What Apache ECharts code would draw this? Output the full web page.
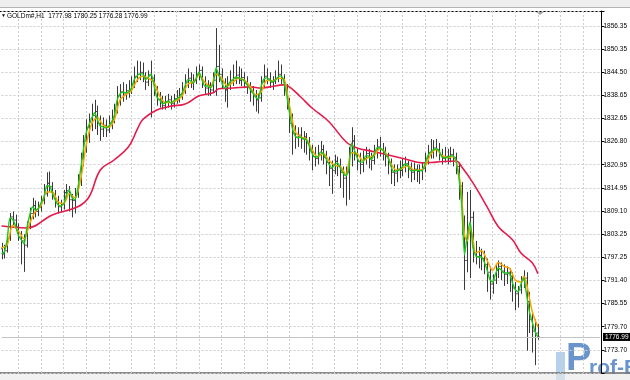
<!DOCTYPE html>
<html><head><meta charset="utf-8">
<script src="https://cdn.jsdelivr.net/npm/echarts@6/dist/echarts.min.js"></script>
<style>html,body{margin:0;padding:0;background:#fff}#c{width:630px;height:380px}</style>
</head><body><div id="c"></div>
<script>
// ---------- data ----------
const symbolName = 'GOLDm#,H1';
const lastQuote = ['1777.98', '1780.25', '1776.28', '1776.99'];
const bidPrice = 1776.99;
const tickLabels = ['1773.70','1779.70','1785.55','1791.40','1797.25','1803.25','1809.10','1814.95',
                    '1820.95','1826.80','1832.65','1838.65','1844.50','1850.35','1856.35'];
const shiftBars = 22; // empty space at the right edge of the chart

const opens = [
1799.5,1798.2,1799.0,1802.2,1807.6,1806.8,1805.0,1802.5,1801.5,1800.4,
1805.2,1808.5,1810.5,1809.0,1810.0,1811.8,1813.5,1816.2,1815.3,1813.2,
1811.5,1810.2,1810.8,1813.8,1814.3,1812.0,1811.8,1813.5,1817.0,1822.5,
1827.0,1830.5,1831.8,1833.5,1834.5,1831.5,1830.0,1831.0,1829.8,1831.5,
1832.5,1834.8,1838.5,1839.5,1839.0,1839.8,1840.0,1841.5,1843.5,1844.0,
1844.5,1843.5,1842.0,1843.8,1843.0,1840.0,1837.5,1837.2,1836.0,1837.0,
1837.5,1836.5,1837.8,1837.5,1838.8,1840.0,1842.0,1843.0,1841.8,1842.5,
1844.0,1845.0,1842.0,1840.5,1841.2,1840.0,1842.5,1846.0,1844.0,1841.8,
1840.0,1841.5,1842.5,1843.0,1843.8,1842.5,1843.2,1841.8,1841.0,1839.5,
1838.5,1837.5,1838.0,1842.0,1843.5,1842.8,1842.0,1842.3,1843.0,1844.0,
1843.0,1840.5,1837.0,1831.5,1829.0,1828.0,1828.5,1827.5,1828.0,1826.5,
1824.5,1823.0,1822.5,1823.5,1824.8,1822.8,1821.5,1820.0,1819.5,1821.8,
1820.5,1819.0,1817.5,1819.0,1824.0,1827.0,1823.5,1821.8,1821.0,1822.5,
1823.8,1822.5,1822.0,1824.5,1825.5,1824.8,1824.0,1823.0,1821.5,1819.0,
1818.8,1819.8,1819.5,1821.0,1821.2,1820.0,1819.0,1819.8,1819.2,1819.5,
1820.0,1822.5,1824.0,1824.5,1825.2,1824.8,1823.5,1822.5,1823.0,1822.5,
1823.5,1822.8,1820.5,1815.5,1806.0,1796.5,1803.5,1807.5,1798.5,1797.5,
1797.8,1797.0,1795.5,1793.5,1790.5,1791.5,1794.0,1795.0,1793.8,1793.0,
1793.5,1792.5,1789.5,1788.0,1789.0,1791.5,1792.0,1786.0,1781.5,1778.5,
1777.98];
const highs = [
1801.0,1800.5,1803.0,1808.6,1809.0,1808.2,1806.0,1804.0,1803.2,1806.5,
1810.0,1812.5,1811.8,1811.5,1813.0,1816.0,1819.0,1819.2,1816.5,1814.5,
1813.0,1812.0,1814.5,1816.0,1815.5,1813.5,1815.0,1818.5,1824.0,1828.5,
1832.5,1834.0,1836.5,1837.5,1836.0,1833.5,1833.0,1832.5,1833.5,1835.0,
1836.5,1841.0,1841.5,1842.0,1841.5,1842.5,1843.5,1846.0,1847.5,1847.3,
1847.0,1844.5,1845.0,1847.5,1844.0,1841.0,1839.5,1838.5,1838.5,1839.0,
1838.5,1839.0,1840.0,1840.5,1842.0,1844.0,1845.5,1844.5,1844.0,1846.0,
1846.5,1846.0,1843.5,1842.5,1842.0,1844.5,1855.8,1851.5,1845.5,1843.0,
1843.5,1845.0,1846.5,1847.5,1846.0,1845.5,1844.5,1843.5,1842.0,1841.0,
1840.0,1839.0,1843.5,1846.5,1845.5,1844.5,1843.5,1845.0,1847.5,1846.5,
1844.0,1841.5,1838.0,1834.0,1831.0,1830.5,1830.5,1829.5,1829.0,1828.0,
1826.0,1825.5,1826.0,1827.0,1826.0,1824.5,1823.0,1822.0,1823.5,1823.0,
1822.5,1820.5,1820.5,1825.5,1830.5,1828.5,1825.0,1824.0,1824.5,1825.5,
1825.0,1824.0,1826.0,1827.5,1828.0,1826.5,1825.5,1824.0,1822.5,1821.0,
1821.0,1822.0,1822.5,1823.0,1822.0,1821.5,1821.5,1821.0,1821.0,1821.5,
1824.0,1826.0,1827.5,1827.2,1827.5,1826.5,1825.0,1825.5,1825.0,1825.5,
1825.0,1824.0,1821.5,1816.5,1808.0,1814.0,1814.5,1809.0,1801.5,1800.0,
1799.5,1799.0,1797.0,1795.0,1793.0,1795.5,1796.5,1796.0,1795.5,1795.0,
1794.5,1793.5,1791.0,1790.0,1792.5,1794.0,1793.5,1788.5,1783.5,1781.5,
1780.25];
const lows = [
1796.8,1797.0,1798.5,1801.5,1805.5,1804.0,1801.5,1795.5,1793.6,1799.8,
1804.5,1807.0,1807.5,1807.8,1809.0,1810.8,1812.8,1814.0,1812.0,1810.0,
1808.5,1808.8,1809.5,1812.0,1809.0,1807.5,1808.5,1812.5,1815.5,1820.5,
1824.0,1826.5,1829.5,1830.0,1828.5,1827.0,1828.0,1828.0,1829.0,1830.0,
1831.5,1834.0,1836.0,1837.0,1837.5,1838.0,1839.0,1840.5,1842.0,1842.5,
1842.0,1840.0,1841.0,1833.0,1838.5,1836.0,1835.5,1835.0,1835.0,1835.5,
1835.0,1835.5,1836.5,1836.8,1837.5,1839.0,1840.5,1840.5,1840.0,1841.5,
1842.5,1840.5,1839.0,1838.5,1838.5,1839.5,1838.5,1842.0,1840.5,1837.0,
1835.5,1840.0,1841.0,1841.5,1841.5,1841.0,1840.5,1839.0,1837.0,1836.0,
1834.5,1834.0,1837.0,1840.5,1841.5,1840.5,1840.0,1841.5,1842.0,1841.5,
1838.5,1835.0,1829.0,1823.5,1825.0,1825.5,1825.0,1824.0,1823.5,1822.0,
1819.5,1820.5,1821.0,1822.0,1821.0,1818.5,1815.5,1813.5,1818.5,1818.0,
1815.0,1812.5,1810.5,1812.0,1820.5,1822.0,1819.5,1818.5,1819.0,1821.0,
1820.0,1819.5,1821.0,1822.5,1823.0,1822.0,1820.5,1818.5,1816.0,1815.5,
1816.5,1817.5,1818.0,1819.0,1817.5,1816.5,1817.0,1816.5,1816.0,1817.0,
1819.0,1821.0,1822.5,1822.5,1823.0,1822.0,1821.0,1821.5,1821.0,1821.5,
1820.5,1818.5,1812.0,1803.0,1789.0,1793.5,1792.0,1796.0,1795.5,1794.5,
1794.0,1793.0,1788.5,1786.5,1788.0,1790.5,1792.0,1791.5,1790.0,1790.5,
1788.5,1786.0,1783.8,1784.5,1788.0,1789.5,1773.5,1778.0,1773.0,1769.8,
1776.28];
const closes = [
1798.2,1799.0,1802.2,1807.6,1806.8,1805.0,1802.5,1801.5,1800.4,1805.2,
1808.5,1810.5,1809.0,1810.0,1811.8,1813.5,1816.2,1815.3,1813.2,1811.5,
1810.2,1810.8,1813.8,1814.3,1812.0,1811.8,1813.5,1817.0,1822.5,1827.0,
1830.5,1831.8,1833.5,1834.5,1831.5,1830.0,1831.0,1829.8,1831.5,1832.5,
1834.8,1838.5,1839.5,1839.0,1839.8,1840.0,1841.5,1843.5,1844.0,1844.5,
1843.5,1842.0,1843.8,1843.0,1840.0,1837.5,1837.2,1836.0,1837.0,1837.5,
1836.5,1837.8,1837.5,1838.8,1840.0,1842.0,1843.0,1841.8,1842.5,1844.0,
1845.0,1842.0,1840.5,1841.2,1840.0,1842.5,1846.0,1844.0,1841.8,1840.0,
1841.5,1842.5,1843.0,1843.8,1842.5,1843.2,1841.8,1841.0,1839.5,1838.5,
1837.5,1838.0,1842.0,1843.5,1842.8,1842.0,1842.3,1843.0,1844.0,1843.0,
1840.5,1837.0,1831.5,1829.0,1828.0,1828.5,1827.5,1828.0,1826.5,1824.5,
1823.0,1822.5,1823.5,1824.8,1822.8,1821.5,1820.0,1819.5,1821.8,1820.5,
1819.0,1817.5,1819.0,1824.0,1827.0,1823.5,1821.8,1821.0,1822.5,1823.8,
1822.5,1822.0,1824.5,1825.5,1824.8,1824.0,1823.0,1821.5,1819.0,1818.8,
1819.8,1819.5,1821.0,1821.2,1820.0,1819.0,1819.8,1819.2,1819.5,1820.0,
1822.5,1824.0,1824.5,1825.2,1824.8,1823.5,1822.5,1823.0,1822.5,1823.5,
1822.8,1820.5,1815.5,1806.0,1796.5,1803.5,1807.5,1798.5,1797.5,1797.8,
1797.0,1795.5,1793.5,1790.5,1791.5,1794.0,1795.0,1793.8,1793.0,1793.5,
1792.5,1789.5,1788.0,1789.0,1791.5,1792.0,1786.0,1781.5,1778.5,1777.98,
1776.99];

// green (fast) moving average, one value per bar
const maFast = [
1798.2,1798.7,1801.8,1807.4,1806.9,1805.3,1802.8,1801.8,1800.7,1804.8,
1808.1,1810.2,1809.4,1809.7,1811.2,1812.5,1815.5,1815.5,1813.7,1812.0,
1810.7,1810.4,1810.9,1813.2,1814.5,1812.5,1812.0,1814.8,1819.6,1824.7,
1829.1,1831.1,1832.9,1834.2,1832.4,1830.8,1830.6,1830.3,1830.8,1831.9,
1833.6,1837.5,1839.0,1839.5,1839.3,1839.5,1840.5,1842.6,1843.6,1844.1,
1844.1,1842.6,1843.3,1844.1,1841.3,1838.2,1837.5,1836.5,1836.7,1837.2,
1836.7,1837.2,1837.7,1838.2,1839.3,1841.0,1842.6,1842.3,1841.8,1843.1,
1844.6,1842.6,1841.0,1841.0,1840.5,1841.6,1845.6,1843.8,1842.1,1840.5,
1841.0,1842.1,1842.6,1843.3,1843.1,1842.8,1842.3,1841.3,1840.3,1839.3,
1838.2,1837.7,1841.0,1842.8,1843.1,1842.6,1842.1,1842.6,1843.3,1843.6,
1842.1,1838.8,1834.2,1830.3,1828.3,1827.8,1828.0,1827.5,1827.3,1825.7,
1823.9,1822.9,1822.9,1824.2,1823.7,1822.4,1821.1,1820.1,1820.9,1821.4,
1820.1,1818.8,1818.1,1819.6,1826.5,1824.7,1822.7,1821.6,1821.6,1823.2,
1823.2,1822.2,1823.7,1825.2,1825.2,1824.7,1823.7,1822.7,1820.4,1819.1,
1819.4,1819.6,1820.4,1821.1,1820.6,1819.4,1819.4,1819.6,1819.4,1819.4,
1821.1,1823.2,1824.2,1824.7,1825.0,1824.5,1822.9,1822.7,1822.7,1823.2,
1823.2,1821.9,1817.6,1810.7,1797.9,1803.0,1806.4,1799.7,1797.7,1797.4,
1797.4,1796.1,1794.1,1791.6,1791.0,1793.1,1794.6,1794.1,1793.3,1793.3,
1793.1,1790.8,1789.0,1788.5,1790.5,1792.1,1787.7,1783.4,1780.8,1778.3,
1776.99];

// orange (medium) moving average, [bar, value]
const maMid = [[0,1799.7],[2,1800.5],[4,1805.5],[6,1804.0],[8,1802.0],[10,1806.0],[12,1809.0],[14,1810.5],
[16,1814.0],[18,1814.0],[20,1811.5],[22,1811.0],[24,1813.5],[26,1812.5],[28,1817.0],[30,1826.0],[32,1831.5],
[34,1833.0],[36,1831.0],[38,1830.5],[40,1832.5],[42,1837.5],[44,1838.8],[46,1839.8],[48,1842.5],[50,1843.5],
[52,1843.0],[54,1842.0],[56,1838.5],[58,1836.8],[60,1836.8],[62,1837.3],[64,1838.5],[66,1841.5],[68,1842.0],
[70,1843.8],[72,1842.0],[74,1840.8],[76,1844.0],[78,1843.0],[80,1841.0],[82,1842.0],[84,1843.0],[86,1842.5],
[88,1841.0],[90,1838.8],[92,1839.5],[94,1842.5],[96,1842.3],[98,1843.0],[100,1842.8],[102,1836.0],[104,1829.5],
[106,1828.0],[108,1827.5],[110,1824.8],[112,1823.0],[114,1823.8],[116,1822.0],[118,1820.8],[120,1820.5],
[122,1818.5],[124,1824.0],[126,1823.8],[128,1822.0],[130,1822.8],[132,1823.3],[134,1825.0],[136,1824.0],
[138,1821.2],[140,1819.5],[142,1820.0],[144,1820.7],[146,1819.6],[148,1819.5],[150,1820.5],[152,1823.5],
[154,1824.8],[156,1823.3],[158,1822.8],[160,1823.0],[162,1818.5],[163,1813.0],[164,1803.0],[165,1801.5],
[166,1805.0],[167,1802.0],[168,1798.5],[170,1799.0],[172,1796.5],[174,1794.0],[176,1796.0],[178,1795.0],
[180,1794.5],[182,1791.5],[184,1791.0],[185,1792.5],[186,1790.5],[188,1783.5],[190,1779.5]];

// crimson (slow) moving average, [bar, value]
const maSlow = [[0,1805.3],[9,1804.8],[18,1808.1],[27,1810.2],[31,1812.7],[35,1819.6],[40,1822.2],[45,1825.5],
[48,1829.8],[50,1832.4],[55,1834.9],[59,1835.7],[61,1836.0],[64,1836.2],[66,1836.7],[70,1838.5],[75,1839.3],
[77,1840.3],[82,1840.5],[88,1840.8],[92,1840.5],[95,1840.8],[100,1841.3],[102,1840.8],[106,1838.2],[110,1835.4],
[116,1831.9],[122,1826.8],[126,1825.2],[131,1824.4],[137,1823.4],[143,1822.4],[149,1821.4],[154,1821.6],
[161,1821.9],[163,1820.4],[167,1816.3],[172,1810.2],[176,1805.1],[181,1801.8],[184,1798.4],[188,1795.9],[190,1793.1]];

// ---------- chart ----------
const barCount = closes.length;
const categories = Array.from({length: barCount + shiftBars}, (_, i) => String(i));
const ohlc = closes.map((c, i) => [i, opens[i], highs[i], lows[i], c]);
const yStep = (parseFloat(tickLabels[tickLabels.length - 1]) - parseFloat(tickLabels[0])) / (tickLabels.length - 1);
const yMin = parseFloat(tickLabels[0]) - yStep;
const yMax = 1860.15;
const FONT = 'Liberation Sans';

const chart = echarts.init(document.getElementById('c'), null, {renderer: 'canvas'});
chart.setOption({
  animation: false,
  backgroundColor: '#ffffff',
  grid: {left: 1.5, right: 28.5, top: 11, bottom: 7, containLabel: false},
  xAxis: {
    type: 'category', data: categories, boundaryGap: false,
    axisLine: {show: false}, axisTick: {show: false}, axisLabel: {show: false},
    splitLine: {show: true, interval: (idx) => idx % 8 === 6,
      lineStyle: {color: '#cdcdcd', type: [2, 2], width: 1}}
  },
  yAxis: {
    type: 'value', position: 'right', offset: 1.5, min: yMin, max: yMax, interval: yStep,
    axisLine: {show: true, lineStyle: {color: '#000', width: 1}},
    axisTick: {show: true, length: 3, lineStyle: {color: '#000'}},
    axisLabel: {margin: 2, fontSize: 6.5, fontFamily: FONT, color: '#000',
      formatter: (v) => {
        let best = '';
        tickLabels.forEach(t => { if (Math.abs(parseFloat(t) - v) < 0.2) best = t; });
        return best;
      }},
    splitLine: {show: true, lineStyle: {color: '#cdcdcd', type: [2, 2], width: 1}}
  },
  series: [
    {
      type: 'custom', name: 'bars', clip: true, z: 2,
      encode: {x: 0, y: [1, 2, 3, 4]},
      data: ohlc,
      renderItem: (params, api) => {
        const i = api.value(0);
        const o = api.coord([i, api.value(1)]);
        const h = api.coord([i, api.value(2)]);
        const l = api.coord([i, api.value(3)]);
        const c = api.coord([i, api.value(4)]);
        const x = Math.round(h[0]) + 0.5;
        const st = {stroke: '#3a3a3a', lineWidth: 1};
        return {type: 'group', children: [
          {type: 'line', shape: {x1: x, y1: h[1], x2: x, y2: l[1]}, style: st},
          {type: 'line', shape: {x1: x - 1.3, y1: o[1], x2: x, y2: o[1]}, style: st},
          {type: 'line', shape: {x1: x, y1: c[1], x2: x + 1.3, y2: c[1]}, style: st}
        ]};
      }
    },
    {
      type: 'line', name: 'MA slow', data: maSlow, smooth: 0.4, showSymbol: false, z: 3,
      lineStyle: {color: '#e41c4c', width: 1.6}
    },
    {
      type: 'line', name: 'MA mid', data: maMid, smooth: 0.3, showSymbol: false, z: 4,
      lineStyle: {color: '#ffa200', width: 1.5}
    },
    {
      type: 'line', name: 'MA fast', data: maFast, smooth: 0.2, showSymbol: false, z: 5,
      lineStyle: {color: '#1ec81e', width: 1.4},
      markLine: {
        silent: true, symbol: ['none', 'none'], animation: false,
        lineStyle: {color: '#c4c4c4', type: 'solid', width: 1},
        label: {show: true, position: 'end', distance: 3, formatter: () => bidPrice.toFixed(2),
          backgroundColor: '#000', color: '#fff', fontSize: 6.5, fontFamily: FONT, padding: [1, 2, 0, 2]},
        data: [{yAxis: bidPrice}]
      }
    }
  ],
  graphic: [
    {type: 'rect', left: 0, top: 0, shape: {width: 630, height: 7}, style: {fill: '#eeeeee'}, silent: true},
    {type: 'line', shape: {x1: 0, y1: 7.5, x2: 630, y2: 7.5}, style: {stroke: '#b4b4b4', lineWidth: 1}, silent: true},
    {type: 'line', shape: {x1: 0, y1: 11.5, x2: 603.5, y2: 11.5}, style: {stroke: '#000', lineWidth: 1}, silent: true},
    {type: 'polygon', shape: {points: [[536, 12], [544, 12], [540, 15]]}, style: {fill: '#a8a8a8'}, silent: true},
    {type: 'text', left: 1, top: 13, style: {text: '▼', fontSize: 5, fill: '#000'}, silent: true},
    {type: 'text', left: 7, top: 13, style: {text: symbolName + '  ' + lastQuote.join(' '),
      fontSize: 6.5, fontFamily: FONT, fill: '#000'}, silent: true},
    {type: 'rect', left: 556, top: 352, shape: {width: 9, height: 28}, style: {fill: 'rgba(150,190,228,0.7)'}, silent: true},
    {type: 'text', left: 566, top: 341, style: {text: 'P', fontSize: 38, fontWeight: 'bold', fontFamily: FONT,
      fill: 'rgba(80,130,195,0.85)'}, silent: true},
    {type: 'text', left: 589, top: 358, style: {text: 'rof-E', fontSize: 21, fontWeight: 'bold', fontFamily: FONT,
      fill: 'rgba(80,130,195,0.85)'}, silent: true},
    {type: 'rect', left: 0, top: 372, shape: {width: 630, height: 2}, style: {fill: 'rgba(120,120,120,0.85)'}, silent: true},
    {type: 'rect', left: 0, top: 374, shape: {width: 630, height: 6}, style: {fill: 'rgba(232,232,232,0.6)'}, silent: true}
  ]
});
</script>
</body></html>
